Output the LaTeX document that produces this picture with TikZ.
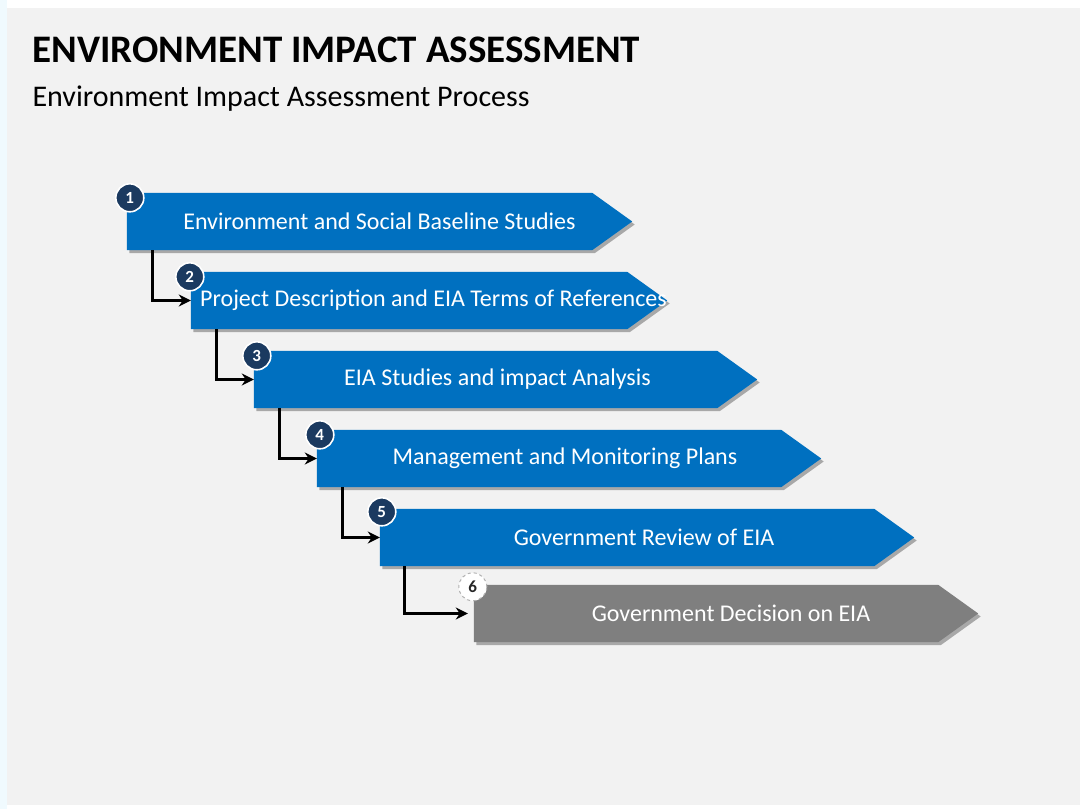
\documentclass[tikz,border=0pt]{standalone}
\usepackage{fontspec}
\setmainfont{Carlito}
\usetikzlibrary{shadows,arrows.meta}
\definecolor{panel}{HTML}{F2F2F2}
\definecolor{stepblue}{HTML}{0070C0}
\definecolor{stepgray}{HTML}{7F7F7F}
\definecolor{badgenavy}{HTML}{1B3A60}
\pgfdeclarelayer{bg}
\pgfdeclarelayer{shp}
\pgfsetlayers{bg,shp,main}
\tikzset{
  stepnode/.style={rectangle, inner sep=0pt, minimum height=57pt, text=white, font=\fontsize{24}{28}\selectfont},
  badge/.style={circle, fill=badgenavy, draw=white, line width=1.6pt, minimum size=28pt, inner sep=0pt, text=white, font=\bfseries\fontsize{17}{19}\selectfont},
  badgelast/.style={circle, fill=white, draw=gray!60, dashed, line width=1pt, minimum size=28pt, inner sep=0pt, text=black!85, font=\bfseries\fontsize{17}{19}\selectfont},
  conn/.style={draw=black, line width=3pt, -{Stealth[length=12pt,width=12pt]}},
  shad/.style={drop shadow={shadow xshift=2.5pt, shadow yshift=-3pt, opacity=0.3, fill=black}}
}
\newcommand{\stepshape}[2]{%
  \begin{pgfonlayer}{shp}
  \fill[#2, shad] (#1.north west) -- ([xshift=-40pt]#1.north east) -- (#1.east) -- ([xshift=-40pt]#1.south east) -- (#1.south west) -- cycle;
  \end{pgfonlayer}}
\begin{document}
\begin{tikzpicture}[x=1pt,y=-1pt]
\useasboundingbox (0,0) rectangle (1080,809);
\begin{pgfonlayer}{bg}
\fill[white] (0,0) rectangle (1080,809);
\fill[cyan!6] (0,0) rectangle (7,809);
\fill[panel] (7,8) rectangle (1080,805);
\end{pgfonlayer}

\node[anchor=base west, font=\bfseries\fontsize{39}{43}\selectfont] (title) at (29,62) {ENVIRONMENT IMPACT ASSESSMENT};
\node[anchor=base west, font=\fontsize{30}{34}\selectfont] (subtitle) at (29,106) {Environment Impact Assessment Process};

\node[stepnode, minimum width=505pt] (s1) at (379.5,221.5) {Environment and Social Baseline Studies};
\node[stepnode, minimum width=476pt] (s2) at (429,300.5) {Project Description and EIA Terms of References\hspace*{-9pt}};
\node[stepnode, minimum width=503pt] (s3) at (505.5,379.5) {\hspace*{-16pt}EIA Studies and impact Analysis};
\node[stepnode, minimum width=504pt] (s4) at (569,458.5) {\hspace*{-8pt}Management and Monitoring Plans};
\node[stepnode, minimum width=534pt] (s5) at (647,537.5) {\hspace*{-6pt}Government Review of EIA};
\node[stepnode, minimum width=504pt] (s6) at (726,613.5) {Government Decision on EIA\hspace*{-10pt}};

\stepshape{s1}{stepblue}
\stepshape{s2}{stepblue}
\stepshape{s3}{stepblue}
\stepshape{s4}{stepblue}
\stepshape{s5}{stepblue}
\stepshape{s6}{stepgray}

\draw[conn] ([xshift=26pt]s1.south west) |- (s2.west);
\draw[conn] ([xshift=26pt]s2.south west) |- (s3.west);
\draw[conn] ([xshift=26pt]s3.south west) |- (s4.west);
\draw[conn] ([xshift=26pt]s4.south west) |- (s5.west);
\draw[conn] ([xshift=25pt]s5.south west) |- ([xshift=-6pt]s6.west);

\node[badge] (b1) at ([xshift=3pt,yshift=-5pt]s1.north west) {1};
\node[badge] (b2) at ([xshift=-1pt,yshift=-5pt]s2.north west) {2};
\node[badge] (b3) at ([xshift=3pt,yshift=-5pt]s3.north west) {3};
\node[badge] (b4) at ([xshift=3pt,yshift=-5pt]s4.north west) {4};
\node[badge] (b5) at ([xshift=2pt,yshift=-3pt]s5.north west) {5};
\node[badgelast] (b6) at ([xshift=-1pt,yshift=-2pt]s6.north west) {6};
\end{tikzpicture}
\end{document}
